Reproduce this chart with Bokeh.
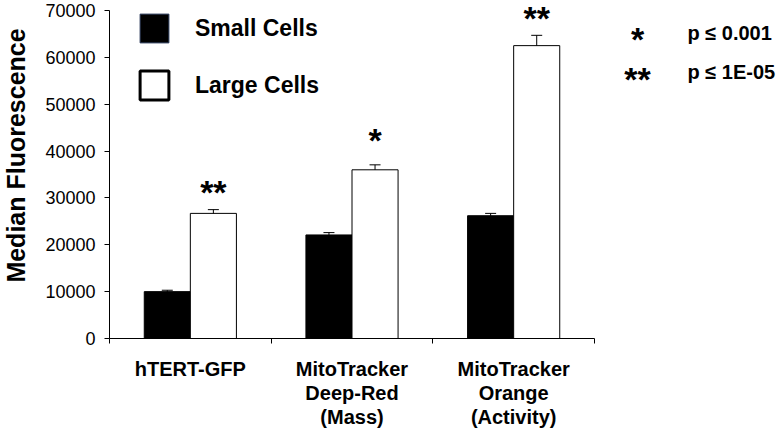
import math
from bokeh.plotting import figure
from bokeh.layouts import row
from bokeh.models import (ColumnDataSource, Whisker, FixedTicker, Label, Legend,
                          LegendItem, Range1d, TeeHead)
from bokeh.embed import file_html
from bokeh.resources import INLINE

# ---- data ----
categories = ["hTERT-GFP", "MitoTracker\nDeep-Red\n(Mass)", "MitoTracker\nOrange\n(Activity)"]
small_cells = [10000, 22100, 26200]
small_err = [300, 500, 500]
large_cells = [26700, 36000, 62500]
large_err = [800, 1060, 2200]
significance = ["**", "*", "**"]
y_ticks = [0, 10000, 20000, 30000, 40000, 50000, 60000, 70000]
series_names = ["Small Cells", "Large Cells"]
key_stars = ["*", "**"]
key_texts = ["p \u2264 0.001", "p \u2264 1E-05"]
y_title = "Median Fluorescence"

FONT = "Liberation Sans"
H = 430
TOP, BOTTOM = 0, 92          # shared plot borders (frames line up in the row)
BW = 0.285
STAR_SIZE = "34px"


def blank_fig(width):
    # frame covers page rows TOP .. H-BOTTOM; data y = H - page_y
    f = figure(width=width, height=H, output_backend="svg", toolbar_location=None,
               x_range=Range1d(0, width), y_range=Range1d(BOTTOM, H - TOP),
               x_axis_location=None, y_axis_location=None,
               min_border_left=0, min_border_right=0,
               min_border_top=TOP, min_border_bottom=BOTTOM,
               background_fill_color="white", border_fill_color="white")
    f.outline_line_color = None
    f.grid.visible = False
    return f


# ---- left strip: y axis title ----
left = blank_fig(30)
left.add_layout(Label(x=15, y=H - 155, text=y_title, angle=math.pi / 2,
                      text_align="center", text_baseline="middle", text_font=FONT,
                      text_font_size="25px", text_font_style="bold",
                      text_color="black"))

# ---- main chart ----
p = figure(width=570, height=H, output_backend="svg", toolbar_location=None,
           x_range=Range1d(0, len(categories)), y_range=Range1d(0, 72130),
           min_border_left=79, min_border_right=6, min_border_top=TOP,
           min_border_bottom=BOTTOM, background_fill_color="white",
           border_fill_color="white")
p.outline_line_color = None
p.grid.visible = False

xs_small = [i + 0.5 - BW / 2 for i in range(len(categories))]
xs_large = [i + 0.5 + BW / 2 for i in range(len(categories))]

src_s = ColumnDataSource(dict(x=xs_small, top=small_cells,
                              up=[v + e for v, e in zip(small_cells, small_err)],
                              lo=[v - e for v, e in zip(small_cells, small_err)]))
src_l = ColumnDataSource(dict(x=xs_large, top=large_cells,
                              up=[v + e for v, e in zip(large_cells, large_err)],
                              lo=[v - e for v, e in zip(large_cells, large_err)]))

p.vbar(x="x", top="top", width=BW, source=src_s, fill_color="black", line_color="black")
p.vbar(x="x", top="top", width=BW, source=src_l, fill_color="white", line_color="black",
       line_width=1)

for src in (src_s, src_l):
    p.add_layout(Whisker(base="x", upper="up", lower="lo", source=src,
                         line_color="black", line_width=1,
                         upper_head=TeeHead(size=11, line_color="black", line_width=1),
                         lower_head=TeeHead(size=11, line_color="black", line_width=1)))

# legend proxies (thicker outline on the key boxes), hidden from the plot
r_s = p.vbar(x="x", top="top", width=BW, source=src_s, fill_color="black",
             line_color="#2a3a5a", line_width=1, visible=False)
r_l = p.vbar(x="x", top="top", width=BW, source=src_l, fill_color="white",
             line_color="black", line_width=3, visible=False)
legend = Legend(items=[LegendItem(label=series_names[0], renderers=[r_s]),
                       LegendItem(label=series_names[1], renderers=[r_l])],
                location=(27, 235), orientation="vertical",
                glyph_width=36, glyph_height=36, spacing=21, label_standoff=23,
                padding=0, margin=0, border_line_color=None,
                background_fill_alpha=0, click_policy="none",
                label_text_font=FONT, label_text_font_size="23px",
                label_text_font_style="bold", label_text_color="black")
p.add_layout(legend)

# axes
ya = p.yaxis[0]
ya.ticker = FixedTicker(ticks=y_ticks)
ya.bounds = (y_ticks[0], y_ticks[-1])
ya.minor_tick_line_color = None
ya.major_tick_in = 0
ya.major_tick_out = 5
ya.axis_line_color = "black"
ya.major_tick_line_color = "black"
ya.major_label_text_font = FONT
ya.major_label_text_font_size = "18px"
ya.major_label_text_color = "black"
ya.major_label_standoff = 9

xa = p.xaxis[0]
xa.ticker = FixedTicker(ticks=[i + 0.5 for i in range(len(categories))],
                        minor_ticks=list(range(len(categories) + 1)))
xa.major_label_overrides = {i + 0.5: c for i, c in enumerate(categories)}
xa.major_tick_in = 0
xa.major_tick_out = 0
xa.minor_tick_in = 0
xa.minor_tick_out = 5
xa.minor_tick_line_color = "black"
xa.axis_line_color = "black"
xa.major_label_text_font = FONT
xa.major_label_text_font_size = "20px"
xa.major_label_text_font_style = "bold"
xa.major_label_text_line_height = 1.1
xa.major_label_text_color = "black"
xa.major_label_standoff = 14

# significance stars above the large bars
star_y = [27210, 38200, 64300]
for x, s, yy in zip(xs_large, significance, star_y):
    p.add_layout(Label(x=x, y=yy, text=s, text_align="center", text_font=FONT,
                       text_font_size=STAR_SIZE, text_font_style="bold",
                       text_color="black"))

# ---- right strip: significance key ----
right = blank_fig(177)
key_star_base = [57.5, 97]
key_text_base = [43, 82]
for s, t, ys, yt in zip(key_stars, key_texts, key_star_base, key_text_base):
    right.add_layout(Label(x=37, y=H - ys, text=s, text_align="center", text_font=FONT,
                           text_font_size=STAR_SIZE, text_font_style="bold",
                           text_color="black"))
    right.add_layout(Label(x=87, y=H - yt, text=t, text_align="left", text_font=FONT,
                           text_font_size="20px", text_font_style="bold",
                           text_color="black"))

layout = row(left, p, right, spacing=0)
open("out.html", "w").write(file_html(layout, INLINE))
